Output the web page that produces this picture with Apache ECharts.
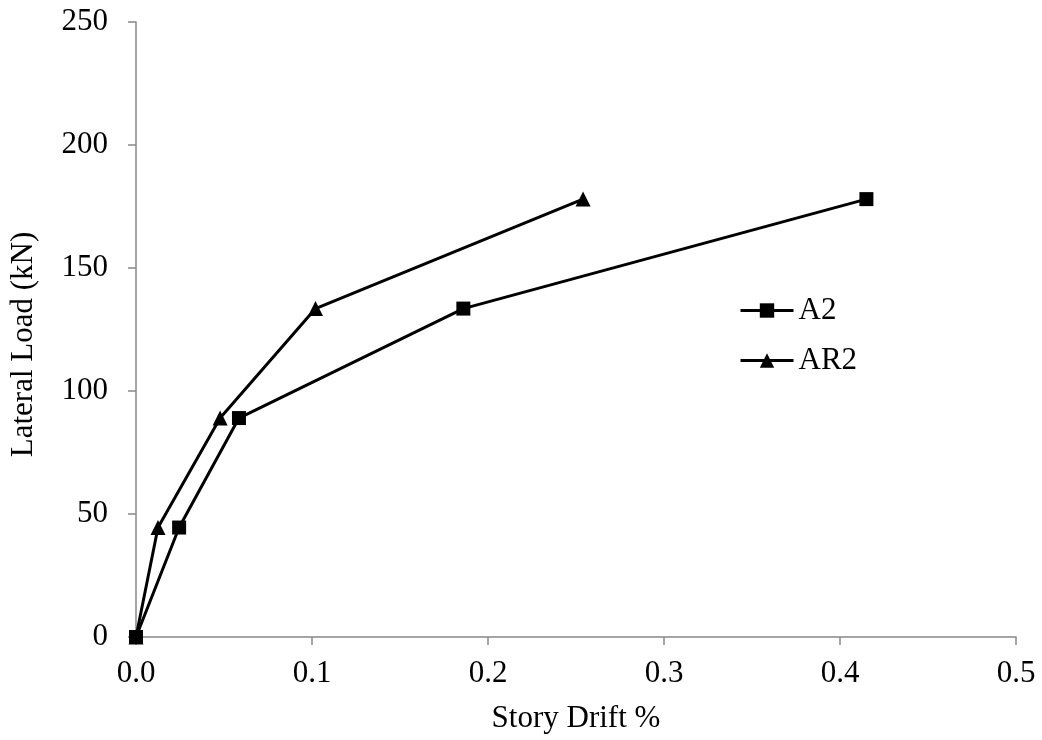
<!DOCTYPE html>
<html><head><meta charset="utf-8">
<script src="https://cdn.jsdelivr.net/npm/echarts@6/dist/echarts.min.js"></script>
<style>html,body{margin:0;padding:0;background:#fff}#c{width:1042px;height:740px}</style>
</head><body><div id="c"></div>
<script>
const seriesNames = ['A2', 'AR2'];
const a2Drift = [0, 0.0245, 0.0585, 0.186, 0.415];
const a2Load = [0, 44.5, 89, 133.5, 178];
const ar2Drift = [0, 0.0125, 0.0478, 0.102, 0.254];
const ar2Load = [0, 44.5, 89, 133.5, 178];
const xTickLabels = ['0.0', '0.1', '0.2', '0.3', '0.4', '0.5'];

const font = 'Liberation Serif';
const fs = 31;
const chart = echarts.init(document.getElementById('c'));
const pair = (xs, ys) => xs.map((x, i) => [x, ys[i]]);
chart.setOption({
  backgroundColor: '#fff',
  animation: false,
  grid: { left: 136, right: 26, top: 22, bottom: 103 },
  legend: {
    orient: 'vertical', left: 739, top: 295, itemGap: 19, padding: 0,
    itemWidth: 53, itemHeight: 18,
    lineStyle: { width: 3, color: '#000' },
    textStyle: { fontFamily: font, fontSize: fs, color: '#000' },
    data: seriesNames
  },
  xAxis: {
    type: 'value', min: 0, max: 0.5, interval: 0.1,
    name: 'Story Drift %', nameLocation: 'middle', nameGap: 66,
    nameTextStyle: { fontFamily: font, fontSize: fs, color: '#000' },
    axisLine: { lineStyle: { color: '#888', width: 1.5 } },
    axisTick: { show: true, length: 8, lineStyle: { color: '#888', width: 1.5 } },
    axisLabel: { fontFamily: font, fontSize: fs, color: '#000', margin: 21,
      formatter: (v) => xTickLabels[Math.round(v * 10)] },
    splitLine: { show: false }
  },
  yAxis: {
    type: 'value', min: 0, max: 250, interval: 50,
    name: 'Lateral Load (kN)', nameLocation: 'middle', nameGap: 97,
    nameTextStyle: { fontFamily: font, fontSize: fs, color: '#000', padding: [0, 30, 0, 0] },
    axisLine: { show: true, lineStyle: { color: '#888', width: 1.5 } },
    axisTick: { show: true, length: 8, lineStyle: { color: '#888', width: 1.5 } },
    axisLabel: { fontFamily: font, fontSize: fs, color: '#000', margin: 28 },
    splitLine: { show: false }
  },
  series: [
    { name: seriesNames[0], type: 'line', data: pair(a2Drift, a2Load),
      symbol: 'rect', symbolSize: 14,
      lineStyle: { color: '#000', width: 3 }, itemStyle: { color: '#000' } },
    { name: seriesNames[1], type: 'line', data: pair(ar2Drift, ar2Load),
      symbol: 'triangle', symbolSize: 15,
      lineStyle: { color: '#000', width: 3 }, itemStyle: { color: '#000' } }
  ]
});
</script></body></html>
